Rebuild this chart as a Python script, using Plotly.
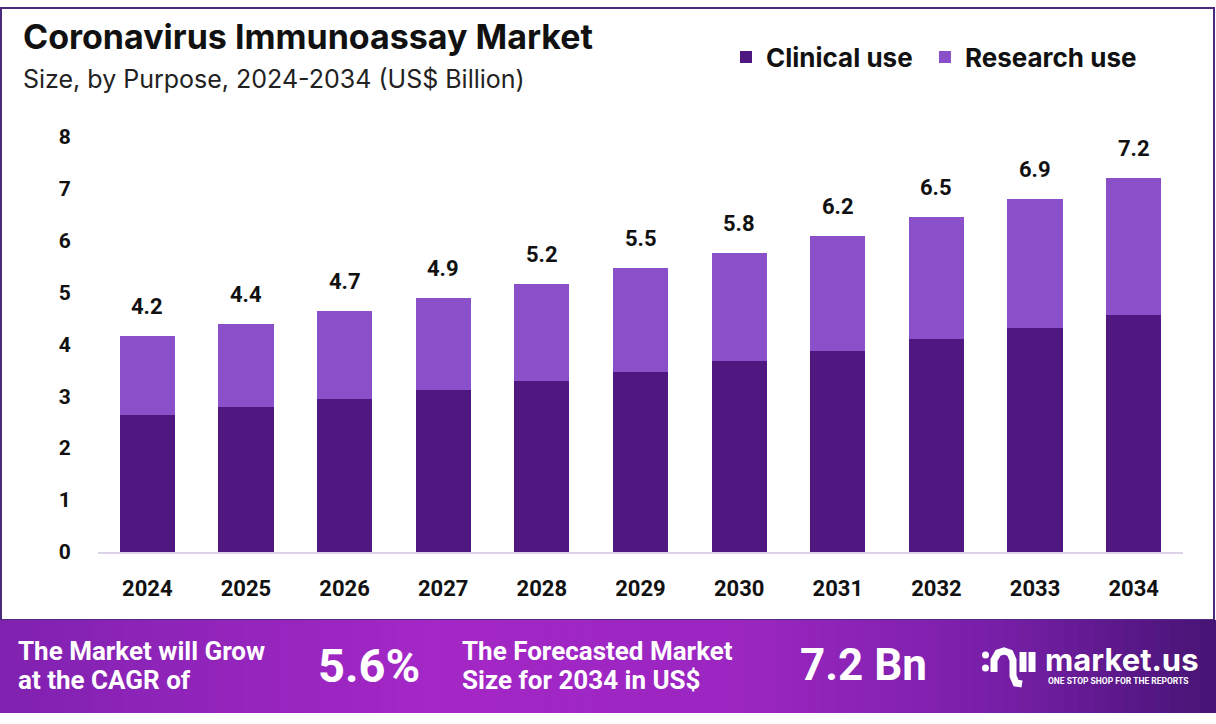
import plotly.graph_objects as go

# --- dati (US$ miliardi) ---
years = ["2024", "2025", "2026", "2027", "2028", "2029", "2030", "2031", "2032", "2033", "2034"]
clinical_use = [2.64, 2.79, 2.95, 3.12, 3.29, 3.47, 3.68, 3.87, 4.10, 4.32, 4.57]
research_use = [1.52, 1.60, 1.69, 1.77, 1.87, 2.00, 2.08, 2.22, 2.34, 2.48, 2.62]
total_labels = ["4.2", "4.4", "4.7", "4.9", "5.2", "5.5", "5.8", "6.2", "6.5", "6.9", "7.2"]
y_ticks = [0, 1, 2, 3, 4, 5, 6, 7, 8]

cagr_text = "5.6%"
forecast_text = "7.2 Bn"

W, H = 1216, 724
L, R, T, B = 98, 1183, 126, 552  # area del grafico in pixel

CLINICAL = "#4E1880"
RESEARCH = "#8A50C9"
TITLE_FONT = "Inter"
NUM_FONT = "Roboto"


def px(x):
    return (x - L) / (R - L)


def py(y):
    return (B - y) / (B - T)


fig = go.Figure()
fig.add_trace(go.Bar(x=years, y=clinical_use, name="<b>Clinical use</b>&nbsp;",
                     marker_color=CLINICAL, marker_line_width=0))
fig.add_trace(go.Bar(x=years, y=research_use, name="<b>Research use</b>",
                     marker_color=RESEARCH, marker_line_width=0))

# etichette dei totali sopra le barre (x = indice della categoria)
totals = [c + r for c, r in zip(clinical_use, research_use)]
for i, (tot, lab) in enumerate(zip(totals, total_labels)):
    fig.add_annotation(x=i, y=tot, xref="x", yref="y", text=f"<b>{lab}</b>", showarrow=False,
                       yanchor="bottom", yshift=15,
                       font=dict(family=NUM_FONT, size=22, color="#111111"))

shapes = []
# bordo del riquadro
shapes.append(dict(type="rect", xref="paper", yref="paper",
                   x0=px(1), x1=px(1214), y0=py(620), y1=py(8),
                   line=dict(color="#4B2A7B", width=2), fillcolor="rgba(0,0,0,0)",
                   layer="below"))

# banda inferiore con gradiente (strisce verticali)
stops = [(0.0, (0x80, 0x22, 0xB0)), (0.35, (0xA4, 0x27, 0xC6)),
         (0.62, (0x9A, 0x26, 0xC0)), (0.82, (0x78, 0x1F, 0xA8)), (1.0, (0x46, 0x14, 0x74))]


def grad(t):
    for (t0, c0), (t1, c1) in zip(stops[:-1], stops[1:]):
        if t0 <= t <= t1:
            f = (t - t0) / (t1 - t0)
            return "rgb(%d,%d,%d)" % tuple(round(a + (b - a) * f) for a, b in zip(c0, c1))
    return "rgb(70,20,116)"


n_strips = 80
sw = W / n_strips
for i in range(n_strips):
    shapes.append(dict(type="rect", xref="paper", yref="paper",
                       x0=px(i * sw), x1=px((i + 1) * sw + 1), y0=py(713), y1=py(620),
                       line_width=0, fillcolor=grad((i + 0.5) / n_strips), layer="below"))


# icona del logo (approssimata)
def pth(points):
    return "M " + " L ".join(f"{px(x)},{py(y)}" for x, y in points)


icon_lines = [
    [(994, 672), (994, 660), (998, 653), (1004, 651), (1010, 653), (1013, 660), (1013, 676), (1016, 683), (1022, 684)],
    [(1023, 652), (1023, 672)],
    [(1032, 652), (1032, 672)],
]
for pts in icon_lines:
    shapes.append(dict(type="path", xref="paper", yref="paper", path=pth(pts),
                       line=dict(color="white", width=7)))
for cy in (655, 668):
    shapes.append(dict(type="circle", xref="paper", yref="paper",
                       x0=px(982), x1=px(989), y0=py(cy + 3.5), y1=py(cy - 3.5),
                       fillcolor="white", line_width=0))

# titolo e sottotitolo
fig.add_annotation(x=px(21), y=py(36), xref="paper", yref="paper", xanchor="left", yanchor="middle",
                   text="<b>Coronavirus Immunoassay Market</b>", showarrow=False,
                   font=dict(family=TITLE_FONT, size=34, color="#111111"))
fig.add_annotation(x=px(21), y=py(79), xref="paper", yref="paper", xanchor="left", yanchor="middle",
                   text="Size, by Purpose, 2024-2034 (US$ Billion)", showarrow=False,
                   font=dict(family=TITLE_FONT, size=25, color="#222222"))

# testi della banda
banner = [
    (16, 651, "<b>The Market will Grow</b>", 26),
    (16, 680, "<b>at the CAGR of</b>", 26),
    (316, 665, f"<b>{cagr_text}</b>", 47),
    (460, 651, "<b>The Forecasted Market</b>", 26),
    (460, 680, "<b>Size for 2034 in US$</b>", 26),
    (798, 665, f"<b>{forecast_text}</b>", 44),
]
for x, y, txt, sz in banner:
    fig.add_annotation(x=px(x), y=py(y), xref="paper", yref="paper", xanchor="left", yanchor="middle",
                       text=txt, showarrow=False, align="left",
                       font=dict(family=NUM_FONT, size=sz, color="white"))
fig.add_annotation(x=px(1043), y=py(659), xref="paper", yref="paper", xanchor="left", yanchor="middle",
                   text="<b>market.us</b>", showarrow=False,
                   font=dict(family=TITLE_FONT, size=31, color="white"))
fig.add_annotation(x=px(1046), y=py(681), xref="paper", yref="paper", xanchor="left", yanchor="middle",
                   text="<b>ONE STOP SHOP FOR THE REPORTS</b>", showarrow=False,
                   font=dict(family=NUM_FONT, size=8.5, color="white"))

fig.update_layout(
    width=W, height=H,
    barmode="stack", bargap=0.44,
    margin=dict(l=L, r=W - R, t=T, b=H - B, pad=0),
    plot_bgcolor="white", paper_bgcolor="white",
    shapes=shapes,
    showlegend=True,
    legend=dict(orientation="h", x=px(726), y=py(57), xanchor="left", yanchor="middle",
                font=dict(family=TITLE_FONT, size=26, color="#111111"),
                itemwidth=30, traceorder="normal", bgcolor="rgba(0,0,0,0)"),
    xaxis=dict(type="category", range=[-0.5, 10.5], showgrid=False, showline=True,
               linecolor="#DCD3E8", linewidth=2,
               ticks="outside", ticklen=16, tickcolor="rgba(0,0,0,0)",
               tickfont=dict(family=NUM_FONT, size=22, color="#111111"),
               tickvals=years, ticktext=[f"<b>{y}</b>" for y in years]),
    yaxis=dict(range=[0, 8.2], showgrid=False, zeroline=False, showline=False,
               ticks="outside", ticklen=22, tickcolor="rgba(0,0,0,0)",
               tickvals=y_ticks, ticktext=[f"<b>{v}</b>" for v in y_ticks],
               tickfont=dict(family=NUM_FONT, size=21, color="#111111")),
)

fig.write_html("out.html", config={"displayModeBar": False},
               post_script="document.body.style.margin='0';")
